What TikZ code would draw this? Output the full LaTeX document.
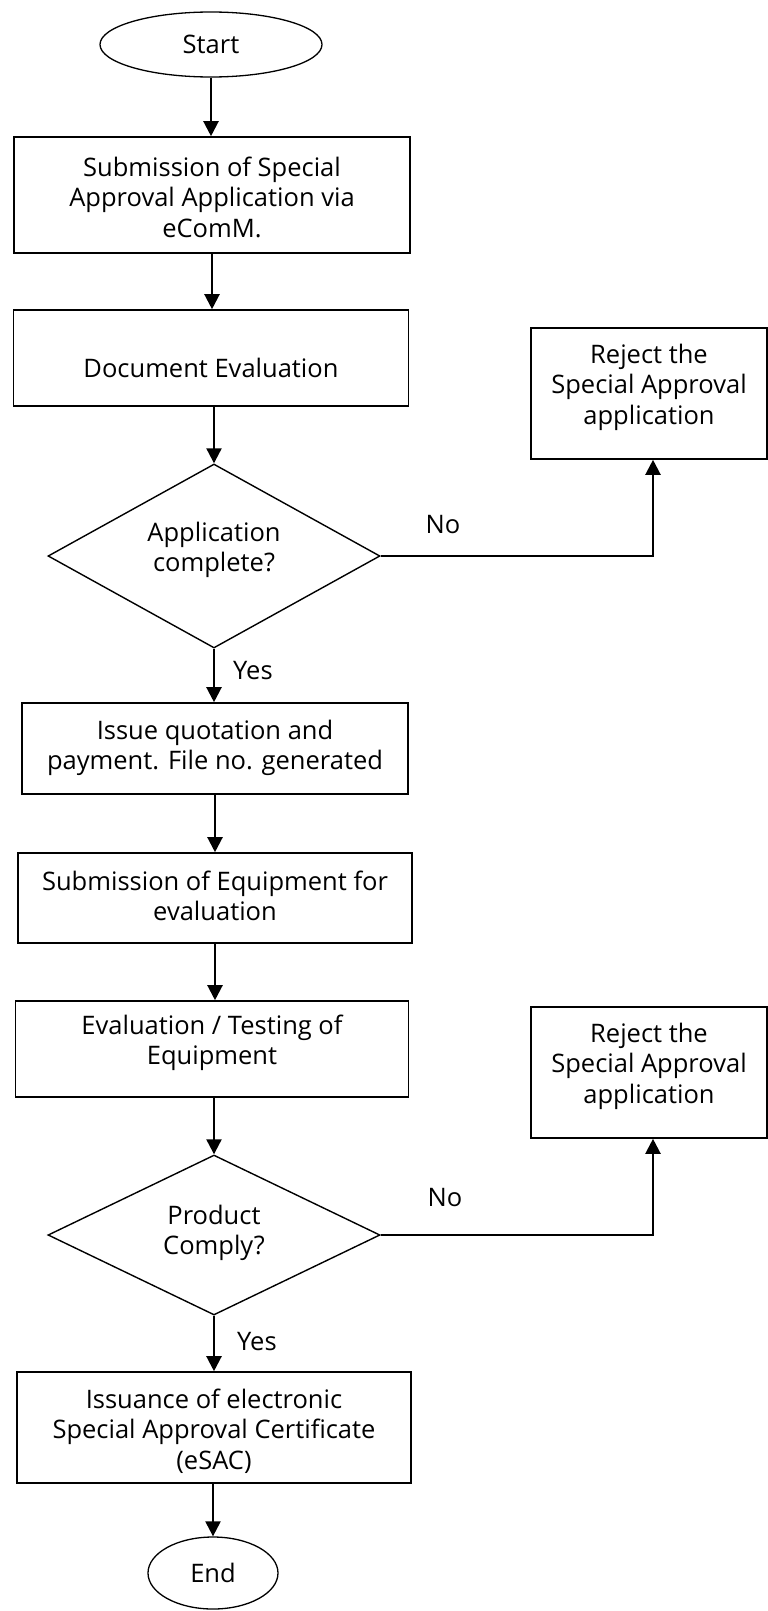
\documentclass[tikz,border=0pt]{standalone}
\usepackage{fontspec}
\setmainfont{Open Sans}
\usetikzlibrary{shapes.geometric,arrows.meta}
\begin{document}
\begin{tikzpicture}[x=1pt,y=-1pt,
  every node/.style={font=\fontsize{25.5}{30.5}\selectfont},
  box/.style={draw,line width=1.6pt,rectangle,inner sep=0pt},
  term/.style={draw,line width=1.3pt,ellipse,inner sep=0pt},
  decision/.style={draw,line width=1.4pt,diamond,inner sep=0pt},
  txt/.style={align=center,inner sep=0pt},
  arr/.style={line width=2.2pt,-{Triangle[length=15pt,width=15pt]}},
  lbl/.style={inner sep=0pt}]
\useasboundingbox (0,0) rectangle (768,1611);
% nodes
\node[term,minimum width=222pt,minimum height=65pt] (start) at (211,44.5) {Start};
\node[box,minimum width=396pt,minimum height=116pt] (b1) at (212,195) {};
\node[txt] (t1) at (212,197) {Submission of Special\\Approval Application via\\eComM.};
\node[box,minimum width=395pt,minimum height=96pt] (b2) at (211,358) {};
\node[txt] (t2) at (211,368) {Document Evaluation};
\node[decision,minimum width=332pt,minimum height=184pt,aspect=1.8] (d1) at (214,556) {};
\node[txt] (td1) at (214,550) {Application\\complete?};
\node[box,minimum width=236pt,minimum height=131pt] (r1) at (649,393.5) {};
\node[txt] (tr1) at (649,387) {Reject the\\Special Approval\\application};
\node[box,minimum width=386pt,minimum height=91pt] (b3) at (215,748.5) {};
\node[txt] (t3) at (215,748) {Issue quotation and\\payment. File no. generated};
\node[box,minimum width=394pt,minimum height=90pt] (b4) at (215,898) {};
\node[txt] (t4) at (215,896) {Submission of Equipment for\\evaluation};
\node[box,minimum width=393pt,minimum height=96pt] (b5) at (212,1049) {};
\node[txt] (t5) at (212,1043) {Evaluation / Testing of\\Equipment};
\node[decision,minimum width=332pt,minimum height=160pt,aspect=2.075] (d2) at (214,1235) {};
\node[txt] (td2) at (214,1233) {Product\\Comply?};
\node[box,minimum width=236pt,minimum height=131pt] (r2) at (649,1072.5) {};
\node[txt] (tr2) at (649,1066) {Reject the\\Special Approval\\application};
\node[box,minimum width=394pt,minimum height=111pt] (b6) at (214,1427.5) {};
\node[txt] (t6) at (214,1431) {Issuance of electronic\\Special Approval Certificate\\(eSAC)};
\node[term,minimum width=130pt,minimum height=72pt] (end) at (213,1573) {End};
% connectors
\draw[arr] (start.south) -- (start.south |- b1.north);
\draw[arr] (b1.south) -- (b1.south |- b2.north);
\draw[arr] (d1.north |- b2.south) -- (d1.north);
\draw[arr] (d1.south) -- (d1.south |- b3.north);
\draw[arr] (b3.south) -- (b3.south |- b4.north);
\draw[arr] (b4.south) -- (b4.south |- b5.north);
\draw[arr] (d2.north |- b5.south) -- (d2.north);
\draw[arr] (d2.south) -- (d2.south |- b6.north);
\draw[arr] (end.north |- b6.south) -- (end.north);
\draw[arr] (d1.east) -| (653,0 |- r1.south);
\draw[arr] (d2.east) -| (653,0 |- r2.south);
% labels
\node[lbl] (no1) at (443,525) {No};
\node[lbl,anchor=west] (yes1) at (233,671) {Yes};
\node[lbl] (no2) at (445,1198) {No};
\node[lbl,anchor=west] (yes2) at (237,1342) {Yes};
\end{tikzpicture}
\end{document}
